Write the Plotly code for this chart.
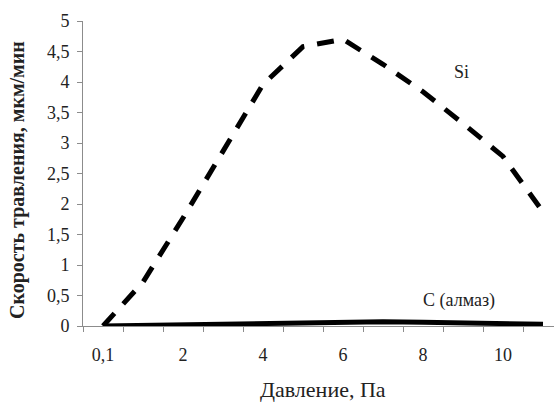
import plotly.graph_objects as go

# Data
categories = ["0,1", "1", "2", "3", "4", "5", "6", "7", "8", "9", "10", "11"]
si_rate = [0.0, 0.72, 1.77, 2.87, 3.96, 4.58, 4.70, 4.29, 3.84, 3.32, 2.78, 1.87]
c_rate = [0.0, 0.01, 0.03, 0.04, 0.05, 0.07, 0.07, 0.07, 0.06, 0.05, 0.04, 0.03]
x_tick_labels = ["0,1", "2", "4", "6", "8", "10"]

x_idx = list(range(len(categories)))
label_idx = [categories.index(t) for t in x_tick_labels]

FONT = "Liberation Serif, DejaVu Serif"
AXIS_GRAY = "#8c8c8c"

fig = go.Figure()
fig.add_trace(go.Scatter(
    x=x_idx, y=si_rate, mode="lines", name="Si",
    line=dict(color="black", width=5, dash="17px,13px"),
    showlegend=False,
))
fig.add_trace(go.Scatter(
    x=x_idx, y=c_rate, mode="lines", name="C (алмаз)",
    line=dict(color="black", width=5),
    showlegend=False,
))

fig.update_layout(
    width=554, height=403,
    margin=dict(l=83, r=0, t=21, b=77),
    paper_bgcolor="white", plot_bgcolor="white",
    separators=", ",
    font=dict(family=FONT, size=18, color="#222222"),
    xaxis=dict(
        range=[-0.5, 11.275],
        tickmode="array", tickvals=label_idx, ticktext=x_tick_labels,
        ticks="", showgrid=False, zeroline=False,
        showline=True, linecolor=AXIS_GRAY, linewidth=1,
        tickfont=dict(size=18, family=FONT, color="#222222"),
        ticklabelstandoff=12,
        minor=dict(tickmode="array", tickvals=[i - 0.5 for i in x_idx],
                   ticks="outside", ticklen=5, tickcolor=AXIS_GRAY, showgrid=False),
    ),
    yaxis=dict(
        range=[0, 5], dtick=0.5, tick0=0,
        ticks="outside", ticklen=5, tickcolor=AXIS_GRAY,
        showgrid=False, zeroline=False,
        showline=True, linecolor=AXIS_GRAY, linewidth=1,
        tickfont=dict(size=18, family=FONT, color="#222222"),
        ticklabelstandoff=4,
    ),
    annotations=[
        dict(text="Si", x=8.97, y=4.16, xref="x", yref="y", showarrow=False,
             font=dict(size=18, family=FONT, color="#222222")),
        dict(text="C (алмаз)", x=8.9, y=0.41, xref="x", yref="y", showarrow=False,
             font=dict(size=18, family=FONT, color="#222222")),
        dict(text="Давление, Па", x=(323 - 83) / (554 - 83), y=-(389 - 326) / 305,
             xref="paper", yref="paper", showarrow=False,
             xanchor="center", yanchor="middle",
             font=dict(size=22, family=FONT, color="#222222")),
        dict(text="<b>Скорость травления, мкм/мин</b>", x=-(83 - 17) / 471,
             y=(326 - 180) / 305, xref="paper", yref="paper", showarrow=False,
             textangle=-90, xanchor="center", yanchor="middle",
             font=dict(size=20, family=FONT, color="#222222")),
    ],
)

fig.write_html("out.html")
